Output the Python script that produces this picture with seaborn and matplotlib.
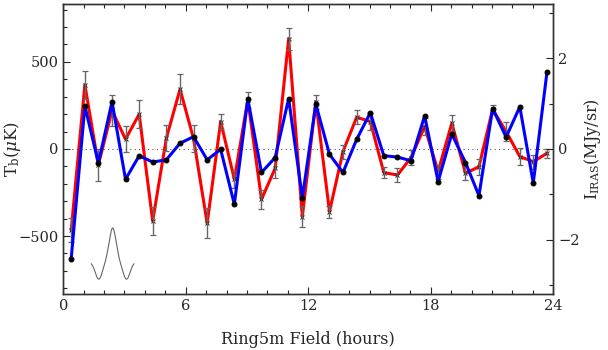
import numpy as np
import pandas as pd
import matplotlib
matplotlib.use('Agg')
import matplotlib.pyplot as plt
import seaborn as sns
from matplotlib.ticker import MultipleLocator

# Ring5m field: 36 bins of 40 min in RA
hours = [0.39, 1.06, 1.72, 2.39, 3.05, 3.72, 4.38, 5.05, 5.72, 6.38, 7.05, 7.71,
         8.38, 9.04, 9.71, 10.38, 11.04, 11.71, 12.37, 13.04, 13.70, 14.37, 15.04, 15.70,
         16.37, 17.03, 17.70, 18.36, 19.03, 19.70, 20.36, 21.03, 21.69, 22.36, 23.02, 23.69]

# brightness temperature (uK) and its error
tb = [-466, 368, -92, 220, 56, 199, -414, 61, 343, 60, -427, 157,
      -174, 282, -289, -111, 632, -389, 272, -360, -15, 182, 157, -136,
      -150, -50, 128, -130, 148, -140, -102, 228, 100, -44, -73, -25]
tb_err = [70, 82, 90, 90, 75, 80, 80, 75, 85, 80, 85, 45,
          50, 45, 55, 55, 65, 60, 40, 35, 40, 40, 50, 30,
          40, 45, 50, 40, 45, 40, 45, 25, 55, 50, 40, 25]

# IRAS 100um intensity (MJy/sr)
iras = [-2.42, 0.945, -0.31, 1.04, -0.67, -0.15, -0.29, -0.24, 0.125, 0.27, -0.24, -0.01,
        -1.22, 1.10, -0.52, -0.19, 1.11, -1.08, 0.99, -0.12, -0.52, 0.21, 0.80, -0.15,
        -0.18, -0.26, 0.73, -0.72, 0.33, -0.30, -1.03, 0.89, 0.26, 0.93, -0.75, 1.69]

df = pd.DataFrame({'hours': hours, 'tb': tb, 'tb_err': tb_err, 'iras': iras})

sns.set_style('ticks')
plt.rcParams['font.family'] = ['DejaVu Serif']
plt.rcParams['mathtext.fontset'] = 'dejavuserif'
plt.rcParams['xtick.direction'] = 'in'
plt.rcParams['ytick.direction'] = 'in'

fig, ax = plt.subplots(figsize=(6.08, 3.5), dpi=100)
fig.subplots_adjust(left=0.104, right=0.910, top=0.989, bottom=0.16)

# zero line
ax.axhline(0, color='#555555', lw=0.8, ls=(0, (1, 3)), zorder=1)

# Tb in red with crosses
sns.lineplot(data=df, x='hours', y='tb', ax=ax, color='red', lw=2.2,
             marker='x', markersize=3.5, markeredgecolor='#222222', markeredgewidth=0.7,
             zorder=3)
ax.errorbar(df['hours'], df['tb'], yerr=df['tb_err'], fmt='none',
            ecolor='#666666', elinewidth=1.0, capsize=2.5, capthick=0.9, zorder=4)

# beam profile sketch (main beam with two negative side lobes)
t = np.linspace(-1.05, 1.05, 200)
s = 0.17
beam = np.exp(-(t / s) ** 2 / 2) - 0.5 * np.exp(-((t - 0.68) / s) ** 2 / 2) \
    - 0.5 * np.exp(-((t + 0.68) / s) ** 2 / 2)
ax.plot(2.42 + t, -650 + 196 * beam, color='#666666', lw=0.8)

ax.set_xlim(0, 24)
ax.set_ylim(-833, 833)
ax.xaxis.set_major_locator(MultipleLocator(6))
ax.xaxis.set_minor_locator(MultipleLocator(1))
ax.yaxis.set_major_locator(MultipleLocator(500))
ax.yaxis.set_minor_locator(MultipleLocator(100))
ax.tick_params(which='both', top=True, labelsize=10.5)
ax.tick_params(which='major', length=5, width=0.8)
ax.tick_params(which='minor', length=3, width=0.8)
ax.set_xlabel('Ring5m Field (hours)', fontsize=11.5, labelpad=13)
ax.set_ylabel(r'$\mathrm{T_b}(\mu\mathrm{K})$', fontsize=12)
ax.yaxis.set_label_coords(-0.083, 0.5)

# IRAS on the right axis in blue with dots
ax2 = ax.twinx()
sns.lineplot(data=df, x='hours', y='iras', ax=ax2, color='blue', lw=2.2,
             marker='o', markersize=3.5, markeredgecolor='black', markerfacecolor='black')
ax2.set_ylim(-3.2, 3.2)
ax2.yaxis.set_major_locator(MultipleLocator(2))
ax2.yaxis.set_minor_locator(MultipleLocator(1))
ax2.tick_params(which='both', labelsize=10.5)
ax2.tick_params(which='major', length=5, width=0.8)
ax2.tick_params(which='minor', length=3, width=0.8)
ax2.set_ylabel(r'$\mathrm{I_{IRAS}}(\mathrm{MJy/sr})$', fontsize=11.5)
ax2.yaxis.set_label_coords(1.058, 0.5)
ax2.set_xlabel('')

for a in (ax, ax2):
    for sp in a.spines.values():
        sp.set_color('#333333')
        sp.set_linewidth(1.0)

fig.savefig('out.png', dpi=100)
